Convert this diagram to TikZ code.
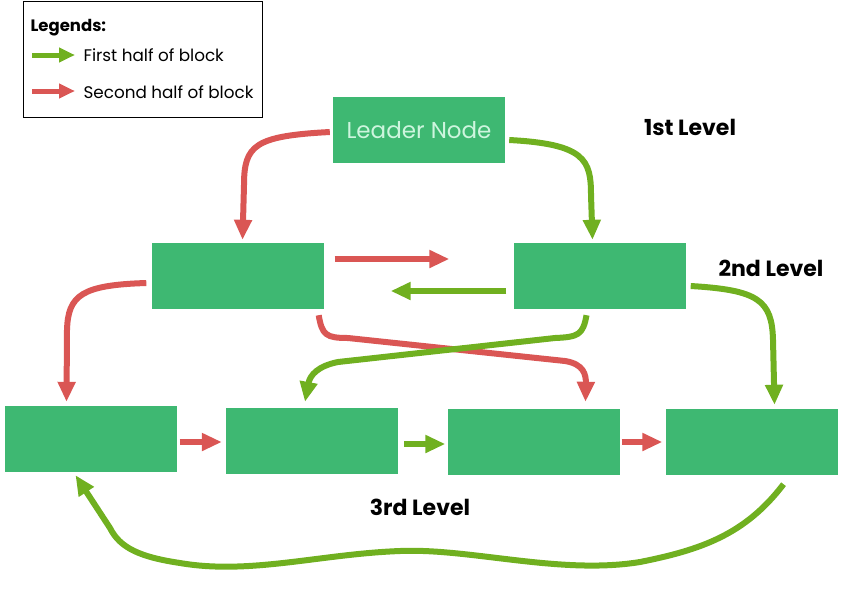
\documentclass[tikz,border=0pt]{standalone}
\usepackage{fontspec}
\setmainfont{Poppins}
\usetikzlibrary{arrows.meta,calc}
\definecolor{boxgreen}{RGB}{62,184,114}
\definecolor{arrgreen}{RGB}{112,176,32}
\definecolor{arrred}{RGB}{218,86,84}
\definecolor{mint}{RGB}{205,245,222}
\tikzset{
  blk/.style={fill=boxgreen,draw=none,minimum width=172pt,minimum height=66pt,inner sep=0pt},
  ga/.style={draw=arrgreen,line width=6pt,-{Triangle[width=17pt,length=20pt]}},
  ra/.style={draw=arrred,line width=6pt,-{Triangle[width=17pt,length=20pt]}},
  lvl/.style={font=\fontsize{22}{26}\selectfont\bfseries,text=black},
  legtext/.style={anchor=west,font=\fontsize{16.8}{20}\selectfont},
}
\begin{document}
\begin{tikzpicture}[x=1pt,y=-1pt]
\useasboundingbox (0,0) rectangle (842,595);
% legend
\node[draw=black,line width=1pt,minimum width=239pt,minimum height=116pt,inner sep=0pt] (legend) at (142.5,59) {};
\node[anchor=west,font=\fontsize{16.5}{20}\selectfont\bfseries] (legt) at (27,28) {Legends:};
\coordinate (lg1) at (32,55);
\coordinate (lg1e) at (75,55);
\coordinate (lg2) at (32,91);
\coordinate (lg2e) at (75,91);
\draw[draw=arrgreen,line width=5pt,-{Triangle[width=14pt,length=16pt]}] (lg1) -- (lg1e);
\draw[draw=arrred,line width=5pt,-{Triangle[width=14pt,length=16pt]}] (lg2) -- (lg2e);
\node[legtext] (lt1) at (80,55) {First half of block};
\node[legtext] (lt2) at (80,92) {Second half of block};
% boxes
\node[blk,text=mint,font=\fontsize{23}{27}\selectfont] (leader) at (419,130) {Leader Node};
\node[blk] (a) at (237.5,276) {};
\node[blk] (b) at (599.5,276) {};
\node[blk] (c1) at (90.5,439) {};
\node[blk] (c2) at (312,441) {};
\node[blk] (c3) at (533.5,442) {};
\node[blk] (c4) at (751.5,442) {};
% level labels
\node[lvl] (l1) at (690,127) {1st Level};
\node[lvl] (l2) at (771,268) {2nd Level};
\node[lvl] (l3) at (420,507) {3rd Level};
% level 1 -> 2
\draw[ra] ($(leader.west)+(-3,2)$) .. controls (255,136) and (244,145) .. (244,185) -- ($(a.north)+(5,-3)$);
\draw[ga] ($(leader.east)+(4,10)$) .. controls (585,144) and (591,160) .. (591,195) -- ($(b.north)+(-7,-3)$);
% level 2 horizontal
\draw[ra] ($(a.east)+(11,-17)$) -- ($(b.west)+(-64,-17)$);
\draw[ga] ($(b.west)+(-7,15)$) -- ($(a.east)+(67,15)$);
% level 2 -> 3 crossing
\draw[ra] ($(a.south east)+(-5,6)$) .. controls (322,335) and (326,338) .. (348,338)
  -- (565,361) .. controls (584,364) and (586,375) .. ($(c3.north)+(52,-7)$);
\draw[ga] ($(b.south)+(-13,6)$) .. controls (583,335) and (578,337) .. (555,338)
  -- (338,362) .. controls (318,366) and (310,375) .. ($(c2.north)+(-7,-6)$);
% outer
\draw[ra] ($(a.west)+(-5,7)$) .. controls (82,285) and (68,295) .. (67,330) -- ($(c1.north)+(-24,-4)$);
\draw[ga] ($(b.east)+(5,10)$) .. controls (758,290) and (772,300) .. (773,340) -- ($(c4.north)+(23,-4)$);
% level 3 horizontal
\draw[ra] ($(c1.east)+(3,3)$) -- ($(c2.west)+(-4,1)$);
\draw[ga] ($(c2.east)+(6,3)$) -- ($(c3.west)+(-2,2)$);
\draw[ra] ($(c3.east)+(2,0)$) -- ($(c4.west)+(-3,0)$);
% bottom return
\draw[ga] ($(c4.south)+(32,9)$) .. controls (745,535) and (700,550) .. (640,562)
  .. controls (560,575) and (470,548) .. (400,551)
  .. controls (320,554) and (250,575) .. (180,563)
  .. controls (140,557) and (120,548) .. (110,528)
  -- ($(c1.south)+(-15,3)$);
\end{tikzpicture}
\end{document}
